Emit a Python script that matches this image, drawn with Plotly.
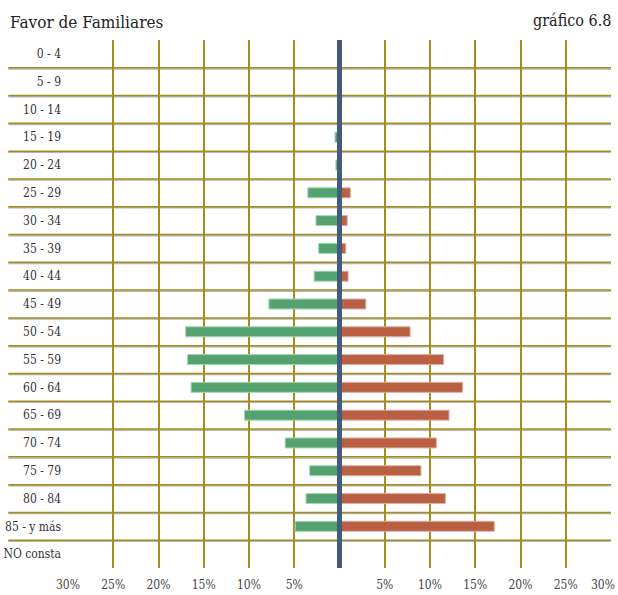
import plotly.graph_objects as go

categories = ["0 - 4", "5 - 9", "10 - 14", "15 - 19", "20 - 24", "25 - 29", "30 - 34",
              "35 - 39", "40 - 44", "45 - 49", "50 - 54", "55 - 59", "60 - 64",
              "65 - 69", "70 - 74", "75 - 79", "80 - 84", "85 - y más", "NO consta"]
left_values = [0, 0, 0, 0.5, 0.4, 3.5, 2.6, 2.3, 2.8, 7.8, 17.0, 16.8, 16.4,
               10.5, 6.0, 3.3, 3.7, 4.9, 0]
right_values = [0, 0, 0, 0, 0, 1.2, 0.85, 0.7, 0.95, 2.9, 7.8, 11.5, 13.6,
                12.1, 10.7, 9.0, 11.7, 17.1, 0]
tick_vals = [-30, -25, -20, -15, -10, -5, 0, 5, 10, 15, 20, 25, 30]
tick_text = ["30%", "25%", "20%", "15%", "10%", "5%", "", "5%", "10%", "15%", "20%", "25%", "30%"]

FONT = "DejaVu Serif Condensed"
GOLD = "#a38d1f"
ypos = list(range(len(categories)))

fig = go.Figure()
fig.add_trace(go.Bar(
    y=ypos, x=[-v for v in left_values], orientation="h", width=0.36,
    marker=dict(color="#54a26f", line=dict(color="#a8d3b4", width=1)),
    showlegend=False, hoverinfo="skip"))
fig.add_trace(go.Bar(
    y=ypos, x=right_values, orientation="h", width=0.36,
    marker=dict(color="#b95f42", line=dict(color="#ddb0a0", width=1)),
    showlegend=False, hoverinfo="skip"))

shapes = []
for i in range(1, len(categories)):
    shapes.append(dict(type="line", xref="paper", yref="y", x0=-0.11, x1=1.0,
                       y0=i - 0.5 + 0.04, y1=i - 0.5 + 0.04,
                       line=dict(color="#b5b5b5", width=1.5), layer="below"))
    shapes.append(dict(type="line", xref="paper", yref="y", x0=-0.11, x1=1.0,
                       y0=i - 0.5, y1=i - 0.5,
                       line=dict(color=GOLD, width=1.5), layer="below"))
shapes.append(dict(type="line", xref="x", yref="paper", x0=0, x1=0, y0=0, y1=1,
                   line=dict(color="#435c7a", width=5), layer="above"))

# last tick label placed so it stays inside the page
axis_text = list(tick_text)
last_label = axis_text[-1]
axis_text[-1] = ""

fig.update_layout(
    width=618, height=595,
    margin=dict(l=68, r=7, t=40, b=27),
    paper_bgcolor="white", plot_bgcolor="white",
    barmode="overlay",
    shapes=shapes,
    font=dict(family=FONT, color="#333333"),
    xaxis=dict(range=[-30, 30], tickvals=tick_vals, ticktext=axis_text,
               showgrid=True, gridcolor=GOLD, gridwidth=1.5, zeroline=False,
               showline=False, tickfont=dict(family=FONT, size=12, color="#444444"),
               ticks="", ticklabelstandoff=8, fixedrange=True, automargin=False,
               ticklabeloverflow="allow"),
    yaxis=dict(range=[len(categories) - 0.5, -0.5], tickvals=ypos, ticktext=categories,
               showgrid=False, zeroline=False, showline=False,
               tickfont=dict(family=FONT, size=12, color="#333333"),
               ticks="", ticklabelstandoff=6, fixedrange=True, automargin=False,
               ticklabeloverflow="allow"),
    annotations=[
        dict(text="Favor de Familiares", xref="paper", yref="paper", x=-0.111, y=1.0,
             yshift=6, xanchor="left", yanchor="bottom", showarrow=False,
             font=dict(family=FONT, size=17, color="#222222")),
        dict(text="gráfico 6.8", xref="paper", yref="paper", x=1.004, y=1.0,
             yshift=8, xanchor="right", yanchor="bottom", showarrow=False,
             font=dict(family=FONT, size=16, color="#222222")),
        dict(text=last_label, xref="x", yref="paper", x=tick_vals[-1], y=0,
             xshift=6, yshift=-8, xanchor="right", yanchor="top", showarrow=False,
             font=dict(family=FONT, size=12, color="#444444")),
    ],
)
fig.write_html("out.html", config={"displayModeBar": False},
               post_script="document.body.style.margin='0';")
